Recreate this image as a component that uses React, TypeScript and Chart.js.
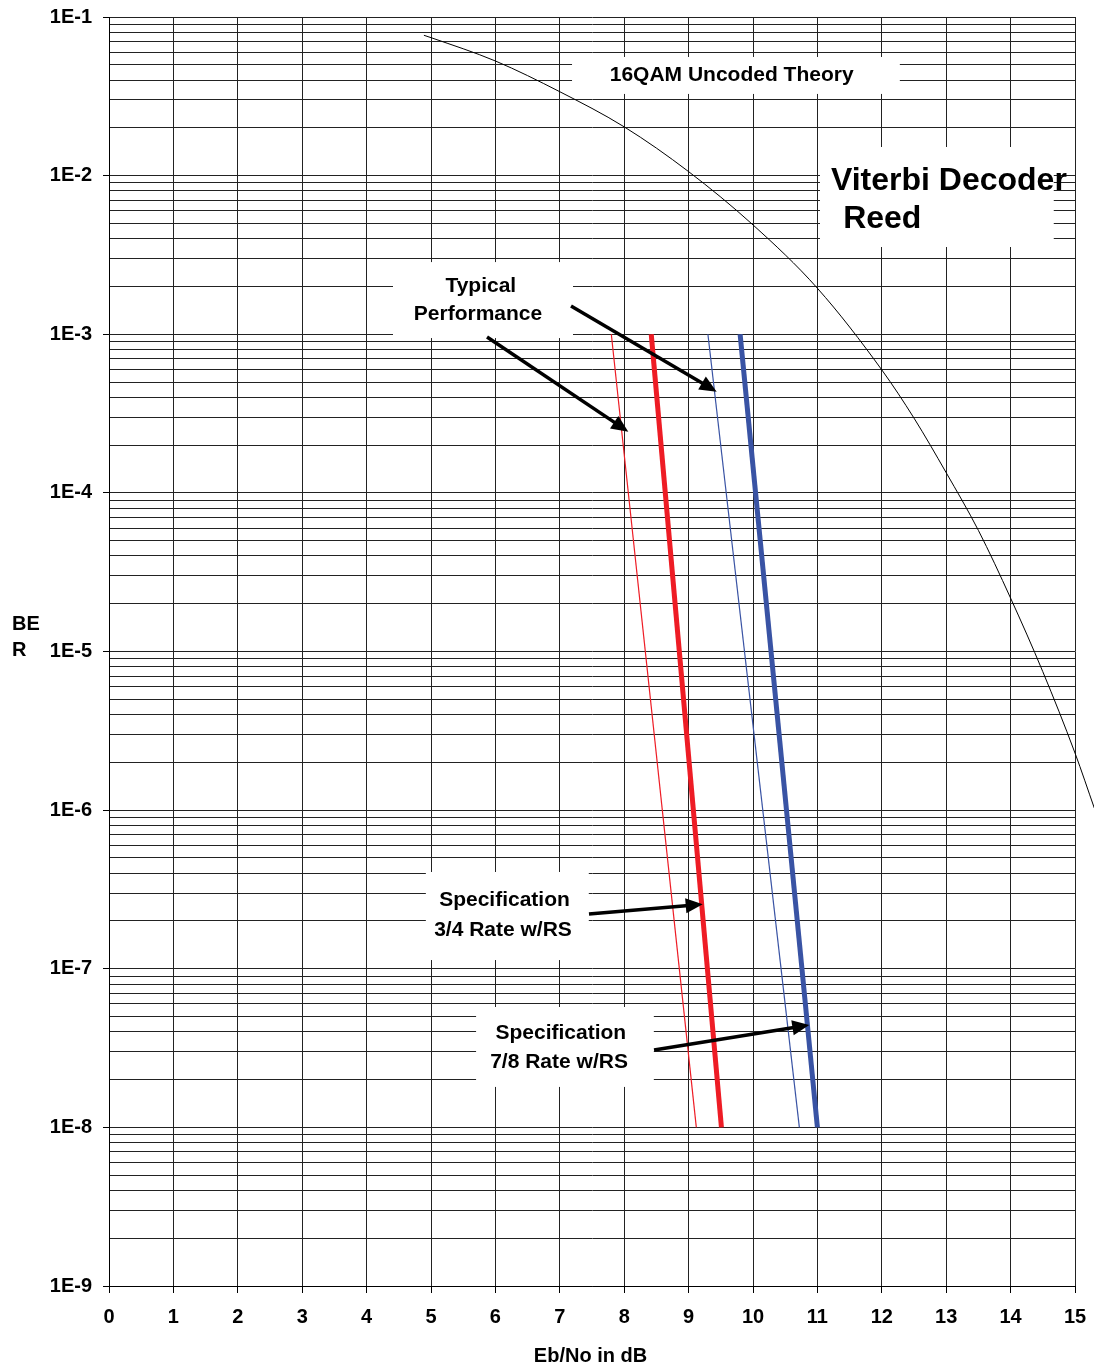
import React, { useEffect, useRef } from 'react';
import { Chart, registerables } from 'chart.js';

Chart.register(...registerables);

const FONT = '"Liberation Sans", Arial, Helvetica, sans-serif';

// ---- Data ----
// 16QAM uncoded theory curve (Eb/No dB, BER)
const qamEbNo = [4.89, 5, 6, 7, 8, 9, 10, 11, 12, 12.5, 13, 13.5, 14, 14.5, 15, 15.3];
const qamBer = [7.67e-2, 7.41e-2, 5.28e-2, 3.38e-2, 2.03e-2, 1.06e-2, 4.89e-3, 1.95e-3, 5.96e-4, 2.96e-4, 1.34e-4, 5.8e-5, 2.17e-5, 7.46e-6, 2.29e-6, 1.03e-6];

// Viterbi / Reed-Solomon lines (BER from 1E-3 to 1E-8)
const lineBer = [1e-3, 1e-8];
const typical34EbNo = [7.8, 9.12];
const spec34EbNo = [8.42, 9.51];
const typical78EbNo = [9.3, 10.72];
const spec78EbNo = [9.8, 11.0];

// Axes
const xMin = 0;
const xMax = 15;
const yDecades = [-9, -8, -7, -6, -5, -4, -3, -2, -1];
const yMinorMultipliers = [1, 2, 3, 4, 5, 6, 7, 8, 9];

// ---- Annotations (data coordinates: x in dB, y as log10 BER) ----
const boxes = [
  { x0: 7.19, x1: 12.28, lgTop: -1.252, lgBot: -1.485 },
  { x0: 11.04, x1: 14.67, lgTop: -1.8195, lgBot: -2.45 },
  { x0: 4.41, x1: 7.205, lgTop: -2.545, lgBot: -3.024 },
  { x0: 4.92, x1: 7.45, lgTop: -6.39, lgBot: -6.945 },
  { x0: 5.7, x1: 8.46, lgTop: -7.241, lgBot: -7.745 },
];

const labels = [
  { text: '16QAM Uncoded Theory', x: 9.669, lg: -1.368, align: 'center', size: 21 },
  { text: 'Viterbi Decoder', x: 11.21, lg: -2.038, align: 'left', size: 32 },
  { text: 'Reed', x: 11.4, lg: -2.273, align: 'left', size: 32 },
  { text: 'Typical', x: 5.773, lg: -2.697, align: 'center', size: 21 },
  { text: 'Performance', x: 5.73, lg: -2.874, align: 'center', size: 21 },
  { text: 'Specification', x: 6.141, lg: -6.569, align: 'center', size: 21 },
  { text: '3/4 Rate w/RS', x: 6.118, lg: -6.754, align: 'center', size: 21 },
  { text: 'Specification', x: 7.016, lg: -7.405, align: 'center', size: 21 },
  { text: '7/8 Rate w/RS', x: 6.988, lg: -7.586, align: 'center', size: 21 },
];

const arrows = [
  { x0: 7.174, lg0: -2.822, x1: 9.436, lg1: -3.362 },
  { x0: 5.87, lg0: -3.017, x1: 8.064, lg1: -3.614 },
  { x0: 7.453, lg0: -6.655, x1: 9.219, lg1: -6.594 },
  { x0: 8.463, lg0: -7.512, x1: 10.874, lg1: -7.355 },
];

function isDecade(v: number) {
  const l = Math.log10(v);
  return Math.abs(l - Math.round(l)) < 1e-9;
}

function buildYTicks() {
  const t: { value: number; major: boolean }[] = [];
  for (const e of yDecades) {
    for (const m of yMinorMultipliers) {
      if (e === -1 && m > 1) continue;
      t.push({ value: Number(m + 'e' + e), major: m === 1 });
    }
  }
  return t;
}

function drawArrow(ctx: CanvasRenderingContext2D, x0: number, y0: number, x1: number, y1: number) {
  const ang = Math.atan2(y1 - y0, x1 - x0);
  const L = 17;
  const W = 7.5;
  const c = Math.cos(ang);
  const s = Math.sin(ang);
  const bx = x1 - L * c;
  const by = y1 - L * s;
  ctx.strokeStyle = '#000';
  ctx.fillStyle = '#000';
  ctx.lineWidth = 3.5;
  ctx.lineCap = 'butt';
  ctx.beginPath();
  ctx.moveTo(x0, y0);
  ctx.lineTo(bx + 3 * c, by + 3 * s);
  ctx.stroke();
  ctx.beginPath();
  ctx.moveTo(x1, y1);
  ctx.lineTo(bx - W * s, by + W * c);
  ctx.lineTo(bx + W * s, by - W * c);
  ctx.closePath();
  ctx.fill();
}

const annotPlugin = {
  id: 'annot',
  beforeDatasetsDraw(chart: any) {
    const { ctx } = chart;
    const xs = chart.scales.x;
    const ys = chart.scales.y;
    const py = (lg: number) => ys.getPixelForValue(Math.pow(10, lg));
    ctx.save();
    ctx.fillStyle = '#fff';
    for (const b of boxes) {
      const l = xs.getPixelForValue(b.x0);
      const r = xs.getPixelForValue(b.x1);
      const t = py(b.lgTop);
      const bt = py(b.lgBot);
      ctx.fillRect(l, t, r - l, bt - t);
    }
    ctx.fillStyle = '#000';
    ctx.textBaseline = 'middle';
    for (const lb of labels) {
      ctx.font = `bold ${lb.size}px ${FONT}`;
      ctx.textAlign = lb.align;
      ctx.fillText(lb.text, xs.getPixelForValue(lb.x), py(lb.lg));
    }
    ctx.restore();
  },
  afterDatasetsDraw(chart: any) {
    const { ctx } = chart;
    const xs = chart.scales.x;
    const ys = chart.scales.y;
    const py = (lg: number) => ys.getPixelForValue(Math.pow(10, lg));
    ctx.save();
    for (const a of arrows) {
      drawArrow(ctx, xs.getPixelForValue(a.x0), py(a.lg0), xs.getPixelForValue(a.x1), py(a.lg1));
    }
    ctx.restore();
  },
  afterDraw(chart: any) {
    const { ctx } = chart;
    const ca = chart.chartArea;
    ctx.save();
    ctx.fillStyle = '#000';
    ctx.font = `bold 20px ${FONT}`;
    ctx.textBaseline = 'middle';
    ctx.textAlign = 'left';
    ctx.fillText('BE', 12, ca.top + 607);
    ctx.fillText('R', 12, ca.top + 633.5);
    ctx.textAlign = 'center';
    ctx.fillText('Eb/No in dB', 590.5, ca.bottom + 70);
    ctx.restore();
  },
};

export default function App() {
  const ref = useRef<HTMLCanvasElement | null>(null);

  useEffect(() => {
    document.body.style.margin = '0';
    const canvas = ref.current;
    if (!canvas) return;
    const toPts = (xs: number[], ys: number[]) => xs.map((x, i) => ({ x, y: ys[i] }));
    // The theory curve runs past the right edge of the grid; listing it from high to
    // low Eb/No keeps Chart.js from trimming points outside the x range.
    const qamPts = toPts(qamEbNo, qamBer).reverse();
    const chart = new Chart(canvas, {
      type: 'line',
      data: {
        datasets: [
          {
            label: '16QAM Uncoded Theory',
            data: qamPts,
            borderColor: '#000',
            borderWidth: 1,
            pointRadius: 0,
            cubicInterpolationMode: 'monotone',
            clip: false,
            fill: false,
          },
          {
            label: 'Typical 3/4',
            data: toPts(typical34EbNo, lineBer),
            borderColor: '#ee1c25',
            borderWidth: 1.2,
            pointRadius: 0,
            fill: false,
          },
          {
            label: 'Spec 3/4',
            data: toPts(spec34EbNo, lineBer),
            borderColor: '#ee1c25',
            borderWidth: 5,
            pointRadius: 0,
            fill: false,
          },
          {
            label: 'Typical 7/8',
            data: toPts(typical78EbNo, lineBer),
            borderColor: '#3953a4',
            borderWidth: 1.2,
            pointRadius: 0,
            fill: false,
          },
          {
            label: 'Spec 7/8',
            data: toPts(spec78EbNo, lineBer),
            borderColor: '#3953a4',
            borderWidth: 5,
            pointRadius: 0,
            fill: false,
          },
        ],
      },
      options: {
        responsive: false,
        animation: false,
        events: [],
        layout: { padding: { top: 17, right: 19, left: 0, bottom: 0 } },
        plugins: {
          legend: { display: false },
          tooltip: { enabled: false },
        },
        scales: {
          x: {
            type: 'linear',
            min: xMin,
            max: xMax,
            ticks: {
              stepSize: 1,
              autoSkip: false,
              maxRotation: 0,
              padding: 12,
              color: '#000',
              font: { family: FONT, size: 20, weight: 'bold' },
            },
            grid: {
              color: '#222',
              lineWidth: 1,
              tickLength: 7,
              tickColor: '#000',
            },
            border: { color: '#000', width: 1 },
            afterFit: (s: any) => {
              s.height = 84;
              s.paddingLeft = 0;
              s.paddingRight = 0;
              s.paddingTop = 0;
              s.paddingBottom = 0;
            },
          },
          y: {
            type: 'logarithmic',
            min: 1e-9,
            max: 1e-1,
            afterBuildTicks: (s: any) => {
              s.ticks = buildYTicks();
            },
            ticks: {
              autoSkip: false,
              padding: 11,
              color: '#000',
              font: { family: FONT, size: 20, weight: 'bold' },
              callback: (v: any) => {
                const n = Number(v);
                if (!isDecade(n)) return '';
                return '1E' + Math.round(Math.log10(n));
              },
            },
            grid: {
              color: '#222',
              lineWidth: 1,
              tickLength: 6,
              tickColor: (c: any) => (c.tick && isDecade(c.tick.value) ? '#000' : 'rgba(0,0,0,0)'),
            },
            border: { color: '#000', width: 1 },
            afterFit: (s: any) => {
              s.width = 109;
              s.paddingLeft = 0;
              s.paddingRight = 0;
              s.paddingTop = 0;
              s.paddingBottom = 0;
            },
          },
        },
      } as any,
      plugins: [annotPlugin as any],
    });
    return () => chart.destroy();
  }, []);

  return (
    <div style={{ width: 1094, height: 1370, background: '#fff' }}>
      <canvas ref={ref} width={1094} height={1370} style={{ display: 'block', width: 1094, height: 1370 }} />
    </div>
  );
}
